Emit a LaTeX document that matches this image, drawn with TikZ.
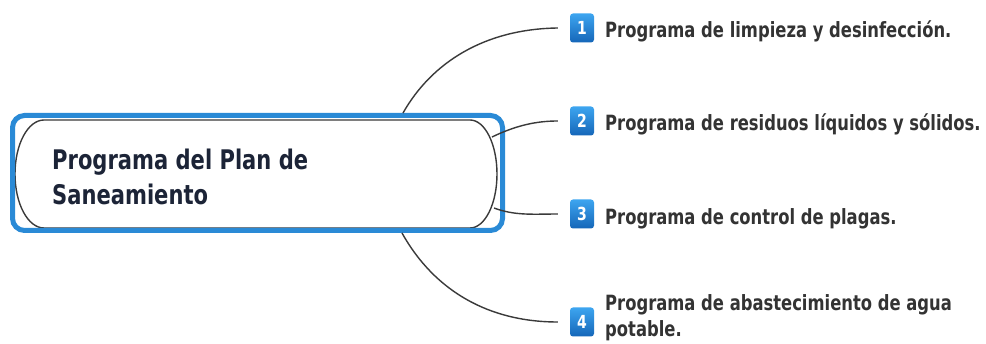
\documentclass[tikz,border=0pt]{standalone}
\usepackage{fontspec}
\setmainfont{DejaVu Sans}
\newfontfamily\cnd[FakeStretch=0.78]{DejaVu Sans}
\definecolor{boxblue}{HTML}{2A8AD6}
\definecolor{badgetop}{HTML}{3DA5F0}
\definecolor{badgebot}{HTML}{1566B8}
\definecolor{maintext}{HTML}{1C2437}
\definecolor{itemgray}{HTML}{333333}
\definecolor{linkgray}{HTML}{3A3A3A}
\begin{document}
\begin{tikzpicture}[x=1pt,y=-1pt,
  boxline/.style={draw=boxblue,line width=5pt,rounded corners=12pt},
  innerline/.style={draw=linkgray,line width=1.4pt},
  badge/.style={minimum width=24pt,minimum height=29pt,inner sep=0pt,rounded corners=3pt,
    top color=badgetop,bottom color=badgebot,text=white,
    font=\cnd\bfseries\fontsize{18}{18}\selectfont},
  itemtext/.style={anchor=base west,inner sep=0pt,text=itemgray,align=left,
    font=\cnd\bfseries\fontsize{21}{26}\selectfont},
  maintxt/.style={anchor=base west,inner sep=0pt,text=maintext,align=left,
    font=\cnd\bfseries\fontsize{27}{35}\selectfont},
  link/.style={draw=linkgray,line width=1.4pt}]
\useasboundingbox (0,0) rectangle (986,344);
\fill[white] (0,0) rectangle (986,344);
% central topic
\draw[innerline] (44,120) -- (470,120)
  arc[start angle=-90,end angle=90,x radius=27,y radius=54]
  -- (44,228)
  arc[start angle=90,end angle=270,x radius=29,y radius=54] -- cycle;
\draw[boxline] (12.5,115.5) rectangle (502.5,230.5);
\node[maintxt] (main) at (52,205) {Programa del Plan de\\Saneamiento};
% attachment points on the central topic
\coordinate (s1) at (403,113);
\coordinate (s2) at (492,137);
\coordinate (s3) at (494,208);
\coordinate (s4) at (402,233);
% badges
\node[badge] (b1) at (582,28) {1};
\node[badge] (b2) at (582,121) {2};
\node[badge] (b3) at (582,214) {3};
\node[badge] (b4) at (582,322) {4};
% item texts
\node[itemtext] (t1) at (605,38) {Programa de limpieza y desinfección.};
\node[itemtext] (t2) at (605,131) {Programa de residuos líquidos y sólidos.};
\node[itemtext] (t3) at (605,225) {Programa de control de plagas.};
\node[itemtext] (t4) at (605,337) {Programa de abastecimiento de agua\\potable.};
% connectors
\draw[link] (s1) .. controls (432,62) and (485,29) .. ([xshift=-12pt]b1.west);
\draw[link] (s2) .. controls (515,126) and (535,121) .. ([xshift=-12pt]b2.west);
\draw[link] (s3) .. controls (515,216) and (535,214) .. ([xshift=-12pt]b3.west);
\draw[link] (s4) .. controls (435,292) and (490,322) .. ([xshift=-12pt]b4.west);
\end{tikzpicture}
\end{document}
